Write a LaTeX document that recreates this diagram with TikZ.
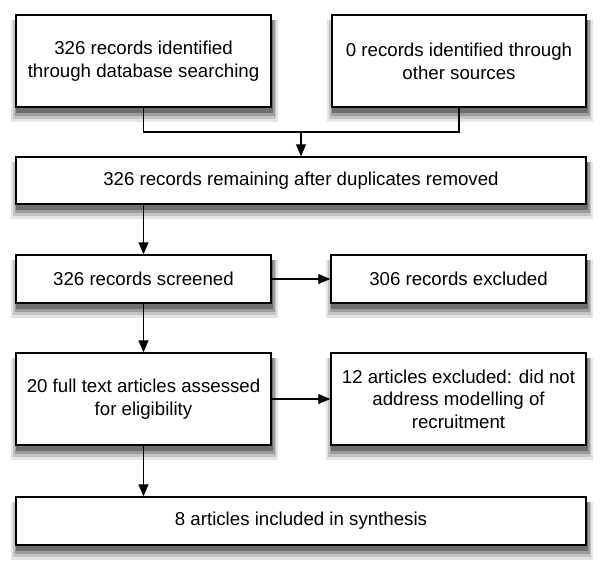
\documentclass[tikz,border=0pt]{standalone}
\usepackage{fontspec}
\setmainfont{Liberation Sans}
\usetikzlibrary{arrows.meta}
\pgfdeclarelayer{background}
\pgfsetlayers{background,main}
\definecolor{shadeA}{RGB}{228,228,228}
\definecolor{shadeB}{RGB}{196,196,196}
\definecolor{shadeC}{RGB}{156,156,156}
\definecolor{shadeD}{RGB}{110,110,110}
\tikzset{
  box/.style={draw, line width=1.1pt, fill=white, align=center, inner sep=0pt,
    font=\fontsize{14pt}{17pt}\selectfont},
  arr/.style={line width=0.9pt, -{Triangle[length=9pt,width=7.5pt]}},
  line/.style={line width=0.9pt}
}
\begin{document}
\begin{tikzpicture}[x=0.75pt,y=-0.75pt]
\useasboundingbox (0,0) rectangle (600,564);
\node[box, minimum width=255*0.75pt, minimum height=92*0.75pt] (db) at (143.5,61) {326 records identified\\through database searching};
\node[box, minimum width=254*0.75pt, minimum height=92*0.75pt] (other) at (459,61) {0 records identified through\\other sources};
\node[box, minimum width=570*0.75pt, minimum height=47*0.75pt] (dedup) at (301,180.5) {326 records remaining after duplicates removed};
\node[box, minimum width=255*0.75pt, minimum height=48*0.75pt] (screen) at (143.5,279) {326 records screened};
\node[box, minimum width=255*0.75pt, minimum height=48*0.75pt] (excl) at (458.5,279) {306 records excluded};
\node[box, minimum width=255*0.75pt, minimum height=92*0.75pt] (full) at (143.5,399) {20 full text articles assessed\\for eligibility};
\node[box, minimum width=255*0.75pt, minimum height=92*0.75pt] (fullexcl) at (458.5,399) {12 articles excluded: did not\\address modelling of\\recruitment};
\node[box, minimum width=570*0.75pt, minimum height=48*0.75pt] (incl) at (301,521) {8 articles included in synthesis};
\coordinate (join) at (301,132);
\draw[line] (db.south) |- (join) -| (other.south);
\draw[arr] (join) -- (dedup.north);
\draw[arr] (dedup.south -| screen.north) -- (screen.north);
\draw[arr] (screen.east) -- (excl.west);
\draw[arr] (screen.south) -- (full.north);
\draw[arr] (full.east) -- (fullexcl.west);
\draw[arr] (full.south) -- (incl.north -| full.south);
% soft shadows under the boxes
\begin{pgfonlayer}{background}
\foreach \b in {db,other,dedup,screen,excl,full,fullexcl,incl}{
  \fill[shadeA] ([shift={(-3pt,-11pt)}]\b.south west) rectangle ([shift={(4.5pt,-4.5pt)}]\b.north east);
  \fill[shadeB] ([shift={(-1.5pt,-8.5pt)}]\b.south west) rectangle ([shift={(3.3pt,-4.5pt)}]\b.north east);
  \fill[shadeC] ([shift={(-0.3pt,-6.2pt)}]\b.south west) rectangle ([shift={(2.2pt,-4.5pt)}]\b.north east);
  \fill[shadeD] ([shift={(0.8pt,-4pt)}]\b.south west) rectangle ([shift={(1.2pt,-4.5pt)}]\b.north east);
}
\end{pgfonlayer}
\end{tikzpicture}
\end{document}
